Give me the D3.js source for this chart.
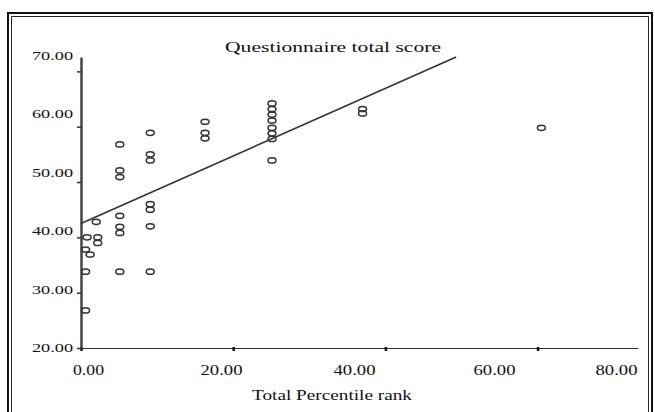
<!DOCTYPE html>
<html>
<head>
<meta charset="utf-8">
<script src="https://cdn.jsdelivr.net/npm/d3@7"></script>
<style>
  html, body { margin: 0; padding: 0; background: #fff; }
  svg { display: block; }
  text { font-family: "Liberation Serif", "DejaVu Serif", serif; fill: #111; }
</style>
</head>
<body>
<svg id="chart" width="655" height="412"></svg>
<script>
// ---- data ----
const chartTitle = "Questionnaire total score";
const xTitle = "Total Percentile rank";
const xTickValues = [0, 20, 40, 60, 80];
const yTickValues = [20, 30, 40, 50, 60, 70];
const percentileRank = [
  0.8, 2.2, 2.2, 2.0, 0.6, 1.2, 0.6, 0.6,
  5.1, 5.1, 5.1, 5.1, 5.1, 5.1, 5.1,
  9.1, 9.1, 9.1, 9.1, 9.1, 9.1, 9.1,
  16.3, 16.3, 16.3,
  25.1, 25.1, 25.1, 25.1, 25.1, 25.1, 25.1, 25.1,
  37.0, 37.0,
  60.5
];
const totalScore = [
  40.0, 40.0, 39.0, 42.8, 37.8, 36.9, 33.8, 26.8,
  56.8, 52.1, 50.9, 43.9, 41.9, 40.8, 33.8,
  58.9, 55.0, 53.9, 46.0, 45.0, 42.0, 33.8,
  60.9, 58.9, 57.9,
  64.2, 63.2, 62.2, 61.1, 59.8, 58.8, 57.8, 53.9,
  63.2, 62.4,
  59.8
];
const fitX = [0, 49.3];
const fitY = [42.5, 72.6];

// ---- drawing ----
const svg = d3.select("#chart");

// document frame (double line)
svg.append("path")
  .attr("d", "M8,420 L8,13 L652,13 L652,420")
  .attr("fill", "none").attr("stroke", "#111").attr("stroke-width", 2);
svg.append("path")
  .attr("d", "M11.5,420 L11.5,16.5 L648.5,16.5 L648.5,420")
  .attr("fill", "none").attr("stroke", "#222").attr("stroke-width", 1);

const x = d3.scaleLinear().domain([0, 73.2]).range([81, 638]);
const y = d3.scaleLinear().domain([20, 72.6]).range([348, 57]);
// tick labels sit on their own positions in the reference (they drift from the tick marks)
const xLab = d3.scaleLinear().domain([0, 20, 40, 60, 80]).range([88, 221, 354, 494, 616]);
const yLab = d3.scaleLinear().domain([20, 70]).range([347, 55]);

// x axis line + tick marks
const gx = svg.append("g").attr("transform", `translate(0,${y(20)})`)
  .call(d3.axisBottom(x).tickValues(xTickValues.filter(v => v <= 73)).tickSize(3).tickSizeOuter(0).tickFormat(""));
gx.select(".domain").attr("stroke", "#333").attr("stroke-width", 1.2);
gx.selectAll(".tick line").attr("stroke", "#111").attr("stroke-width", 2.5)
  .attr("y1", -1);

// y axis line + tick marks
const gy = svg.append("g").attr("transform", `translate(${x(0)},0)`)
  .call(d3.axisLeft(y).tickValues(yTickValues).tickSize(4).tickSizeOuter(0).tickFormat(""));
gy.select(".domain").attr("stroke", "#444").attr("stroke-width", 2.5);
gy.selectAll(".tick line").attr("stroke", "#333").attr("stroke-width", 1.5);

// x tick labels
const gxl = svg.append("g").attr("transform", "translate(0,375)")
  .call(d3.axisBottom(xLab).tickValues(xTickValues).tickSize(0).tickPadding(0).tickFormat(d3.format(".2f")));
gxl.select(".domain").remove();
gxl.selectAll("text")
  .attr("dy", 0).attr("y", 0)
  .attr("font-size", 14)
  .attr("font-family", "Liberation Serif")
  .attr("fill", "#111")
  .attr("textLength", d => d === 0 ? 31 : 42)
  .attr("lengthAdjust", "spacingAndGlyphs");

// y tick labels
const gyl = svg.append("g").attr("transform", "translate(73,0)")
  .call(d3.axisLeft(yLab).tickValues(yTickValues).tickSize(0).tickPadding(0).tickFormat(d3.format(".2f")));
gyl.select(".domain").remove();
gyl.selectAll("text")
  .attr("dy", "0.35em").attr("x", 0)
  .attr("font-size", 13)
  .attr("font-family", "Liberation Serif")
  .attr("fill", "#111")
  .attr("textLength", 41)
  .attr("lengthAdjust", "spacingAndGlyphs");

// titles
svg.append("text").attr("x", 333).attr("y", 52).attr("text-anchor", "middle")
  .attr("font-size", 15).attr("textLength", 216).attr("lengthAdjust", "spacingAndGlyphs")
  .text(chartTitle);
svg.append("text").attr("x", 332).attr("y", 400).attr("text-anchor", "middle")
  .attr("font-size", 14).attr("textLength", 160).attr("lengthAdjust", "spacingAndGlyphs")
  .text(xTitle);

// fit line
const fit = fitX.map((v, i) => [v, fitY[i]]);
svg.append("path")
  .attr("d", d3.line().x(d => x(d[0])).y(d => y(d[1]))(fit))
  .attr("fill", "none").attr("stroke", "#333").attr("stroke-width", 1.6);

// points
const pts = percentileRank.map((v, i) => ({ px: v, py: totalScore[i] }));
svg.append("g").selectAll("ellipse").data(pts).join("ellipse")
  .attr("cx", d => x(d.px)).attr("cy", d => y(d.py))
  .attr("rx", 4).attr("ry", 2.6)
  .attr("fill", "#fff").attr("fill-opacity", 0)
  .attr("stroke", "#333").attr("stroke-width", 1.5);
</script>
</body>
</html>
